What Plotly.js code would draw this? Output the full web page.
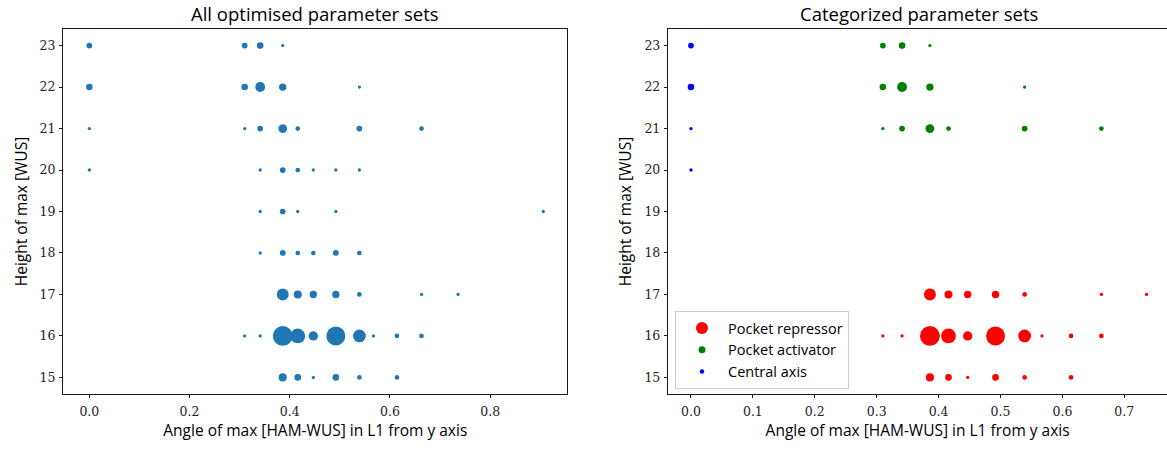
<!DOCTYPE html>
<html>
<head>
<meta charset="utf-8">
<script src="https://cdn.plot.ly/plotly-3.0.1.min.js"></script>
<style>html,body{margin:0;padding:0;background:#fff;}#chart{width:1167px;height:450px;}</style>
</head>
<body>
<div id="chart"></div>
<script>
// Central axis (angle 0)
const centralX = [0, 0, 0, 0];
const centralY = [23, 22, 21, 20];
const centralN = [3, 4, 1, 1];

// Pocket activator (heights 21-23)
const activatorX = [0.31, 0.341, 0.386, 0.31, 0.341, 0.386, 0.539, 0.31, 0.341, 0.386, 0.416, 0.539, 0.663];
const activatorY = [23, 23, 23, 22, 22, 22, 22, 21, 21, 21, 21, 21, 21];
const activatorN = [3, 4, 1, 4, 9, 5, 1, 1, 3, 7, 2, 3, 2];

// Pocket repressor (heights 15-17)
const repressorX = [0.386, 0.416, 0.447, 0.492, 0.539, 0.663, 0.736,
  0.31, 0.341, 0.386, 0.416, 0.447, 0.492, 0.539, 0.567, 0.614, 0.663,
  0.386, 0.416, 0.447, 0.492, 0.539, 0.614];
const repressorY = [17, 17, 17, 17, 17, 17, 17,
  16, 16, 16, 16, 16, 16, 16, 16, 16, 16,
  15, 15, 15, 15, 15, 15];
const repressorN = [13, 6, 5, 5, 2, 1, 1,
  1, 1, 36, 20, 8, 33, 15, 1, 2, 2,
  6, 4, 1, 4, 2, 2];

// Uncategorized (heights 18-20, off-axis)
const otherX = [0.341, 0.386, 0.416, 0.447, 0.492, 0.539,
  0.341, 0.386, 0.416, 0.492, 0.906,
  0.341, 0.386, 0.416, 0.447, 0.492, 0.539];
const otherY = [20, 20, 20, 20, 20, 20,
  19, 19, 19, 19, 19,
  18, 18, 18, 18, 18, 18];
const otherN = [1, 3, 2, 1, 1, 1,
  1, 3, 1, 1, 1,
  1, 3, 2, 2, 3, 2];

const categories = ['Pocket repressor', 'Pocket activator', 'Central axis'];
const yTicks = [15, 16, 17, 18, 19, 20, 21, 22, 23];

const diam = n => 3.3 * Math.sqrt(n);
const allX = centralX.concat(activatorX, repressorX, otherX);
const allY = centralY.concat(activatorY, repressorY, otherY);
const allN = centralN.concat(activatorN, repressorN, otherN);

const mk = (color, n) => ({color: color, size: n.map(diam), opacity: 1, line: {width: 0}});
const traces = [
  {x: allX, y: allY, type: 'scatter', mode: 'markers', xaxis: 'x', yaxis: 'y', showlegend: false, marker: mk('#1f77b4', allN)},
  {x: repressorX, y: repressorY, type: 'scatter', mode: 'markers', xaxis: 'x2', yaxis: 'y2', showlegend: false, marker: mk('#ff0000', repressorN)},
  {x: activatorX, y: activatorY, type: 'scatter', mode: 'markers', xaxis: 'x2', yaxis: 'y2', showlegend: false, marker: mk('#008000', activatorN)},
  {x: centralX, y: centralY, type: 'scatter', mode: 'markers', xaxis: 'x2', yaxis: 'y2', showlegend: false, marker: mk('#0000ff', centralN)},
  // legend entries
  {x: [null], y: [null], type: 'scatter', mode: 'markers', xaxis: 'x2', yaxis: 'y2', name: categories[0],
   marker: {color: '#ff0000', size: 12, opacity: 1}},
  {x: [null], y: [null], type: 'scatter', mode: 'markers', xaxis: 'x2', yaxis: 'y2', name: categories[1],
   marker: {color: '#008000', size: 7, opacity: 1}},
  {x: [null], y: [null], type: 'scatter', mode: 'markers', xaxis: 'x2', yaxis: 'y2', name: categories[2],
   marker: {color: '#0000ff', size: 4.5, opacity: 1}}
];

const tickFont = {family: 'DejaVu Serif, Liberation Serif, serif', size: 12.5, color: '#222'};
const labFont = {family: 'Open Sans, Lato, sans-serif', size: 15.5, color: '#000'};
const titleFont = {family: 'Open Sans, Lato, sans-serif', size: 18.5, color: '#000'};
const axBase = {
  showgrid: false, zeroline: false, showline: true, linecolor: '#000', linewidth: 0.9,
  ticks: 'outside', ticklen: 3.5, tickwidth: 0.9, tickcolor: '#000', tickfont: tickFont
};
const W = 1167;
const layout = {
  width: 1167, height: 450,
  margin: {l: 0, r: 0, t: 29, b: 56},
  paper_bgcolor: '#fff', plot_bgcolor: '#fff',
  showlegend: true,
  xaxis: Object.assign({}, axBase, {domain: [63.3 / W, 567.3 / W], range: [-0.052, 0.954], dtick: 0.2, tick0: 0,
    tickformat: '.1f', mirror: true, anchor: 'y', ticklabelstandoff: 3,
    title: {text: 'Angle of max [HAM-WUS] in L1 from y axis', font: labFont, standoff: 6}}),
  yaxis: Object.assign({}, axBase, {range: [14.6, 23.4], tickvals: yTicks, mirror: true, anchor: 'x', ticklabelstandoff: 1,
    title: {text: 'Height of max [WUS]', font: labFont, standoff: 8}}),
  xaxis2: Object.assign({}, axBase, {domain: [668.2 / W, 1], range: [-0.0368, 0.769], dtick: 0.1, tick0: 0,
    tickformat: '.1f', mirror: true, anchor: 'y2', ticklabelstandoff: 3,
    title: {text: 'Angle of max [HAM-WUS] in L1 from y axis', font: labFont, standoff: 6}}),
  yaxis2: Object.assign({}, axBase, {range: [14.6, 23.4], tickvals: yTicks, mirror: false, anchor: 'x2', ticklabelstandoff: 1,
    title: {text: 'Height of max [WUS]', font: labFont, standoff: 8}}),
  legend: {x: 675 / W, xanchor: 'left', y: 0.0137, yanchor: 'bottom', itemwidth: 42,
    bgcolor: 'rgba(255,255,255,0.8)', bordercolor: '#cccccc', borderwidth: 1,
    font: {family: 'Open Sans, Lato, sans-serif', size: 14.5, color: '#000'}},
  annotations: [
    {text: 'All optimised parameter sets', xref: 'paper', yref: 'paper', x: 315.3 / W, y: 1,
     xanchor: 'center', yanchor: 'bottom', yshift: 1, showarrow: false, font: titleFont},
    {text: 'Categorized parameter sets', xref: 'paper', yref: 'paper', x: 918.5 / W, y: 1,
     xanchor: 'center', yanchor: 'bottom', yshift: 1, showarrow: false, font: titleFont}
  ]
};
Plotly.newPlot('chart', traces, layout, {displayModeBar: false, staticPlot: true});
</script>
</body>
</html>
